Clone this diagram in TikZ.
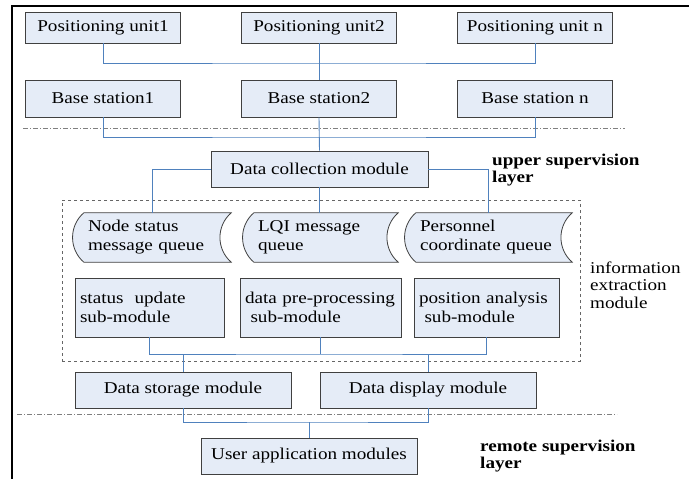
\documentclass[tikz,border=0pt]{standalone}
\usepackage{fontspec}
\setmainfont[FakeStretch=1.16]{Liberation Serif}
\usepackage{tikz}
\usetikzlibrary{backgrounds}

\definecolor{boxfill}{RGB}{229,236,247}
\definecolor{linkblue}{RGB}{79,129,189}
\newcommand{\queuepath}[1]{%
  \draw[qshape] ([xshift=11pt]#1.north west) -- (#1.north east)
    .. controls ([xshift=-15pt,yshift=-13pt]#1.north east) and ([xshift=-15pt,yshift=13pt]#1.south east) .. (#1.south east)
    -- ([xshift=11pt]#1.south west)
    .. controls ([xshift=-4pt,yshift=13pt]#1.south west) and ([xshift=-4pt,yshift=-13pt]#1.north west) .. ([xshift=11pt]#1.north west) -- cycle;}

\begin{document}
\begin{tikzpicture}[x=1pt,y=-1pt,font=\fontsize{16.5}{19}\selectfont]
    \tikzstyle{box}=[draw=black!75,fill=boxfill,line width=0.8pt,inner sep=0pt,align=center]
    \tikzstyle{subbox}=[box,align=left,inner xsep=5pt]
    \tikzstyle{queue}=[inner sep=0pt,inner xsep=15pt,align=left,minimum height=49pt]
    \tikzstyle{qshape}=[draw=black!75,fill=boxfill,line width=0.8pt]
    \tikzstyle{link}=[draw=linkblue,line width=0.9pt]
    \tikzstyle{sepline}=[draw=black!50,line width=0.8pt,dash pattern=on 5pt off 2pt on 1pt off 2pt]
    \tikzstyle{layer}=[anchor=west,align=left,inner sep=0pt,font=\fontsize{16.5}{17}\selectfont\bfseries]
    \tikzstyle{note}=[anchor=west,align=left,inner sep=0pt,font=\fontsize{16.5}{17.5}\selectfont]
    \useasboundingbox (0,0) rectangle (689,479);
    \draw[line width=2.5pt] (12,479) -- (12,6) -- (689,6);

    \node[box,minimum width=155pt,minimum height=31pt] (pu1) at (103,27.5) {Positioning unit1};
    \node[box,minimum width=155pt,minimum height=31pt] (pu2) at (319,27.5) {Positioning unit2};
    \node[box,minimum width=155pt,minimum height=31pt] (pun) at (535,27.5) {Positioning unit n};
    \node[box,minimum width=155pt,minimum height=37pt] (bs1) at (103,98.5) {Base station1};
    \node[box,minimum width=155pt,minimum height=37pt] (bs2) at (319,98.5) {Base station2};
    \node[box,minimum width=155pt,minimum height=37pt] (bsn) at (535,98.5) {Base station n};
    \node[box,minimum width=217pt,minimum height=36pt] (dcm) at (319.5,169) {Data collection module};

    \node[queue,text width=128pt] (q1) at (152,237.5) {Node status\\message queue};
    \node[queue,text width=125pt] (q2) at (320.5,237.5) {LQI message\\queue};
    \node[queue,text width=137pt] (q3) at (488.5,237.5) {Personnel\\coordinate queue};
    \begin{pgfonlayer}{background}
        \queuepath{q1}
        \queuepath{q2}
        \queuepath{q3}
    \end{pgfonlayer}

    \node[subbox,text width=139pt,minimum height=59pt] (su) at (149.5,307.5) {status\ \ update\\sub-module};
    \node[subbox,text width=151pt,minimum height=59pt] (dp) at (320.5,307.5) {data pre-processing\\\ sub-module};
    \node[subbox,text width=135pt,minimum height=59pt] (pa) at (486.5,307.5) {position analysis\\\ sub-module};
    \node[draw=black!60,dashed,line width=0.8pt,minimum width=518pt,minimum height=161pt] (ext) at (321,280.5) {};

    \node[box,minimum width=216pt,minimum height=36pt] (ds) at (183,390) {Data storage module};
    \node[box,minimum width=216pt,minimum height=36pt] (dd) at (428,390) {Data display module};
    \node[box,minimum width=216pt,minimum height=36pt] (ua) at (309,456) {User application modules};

    \node[layer] (upper) at (492,170) {upper supervision\\layer};
    \node[note] (info) at (590,285) {information\\extraction\\module};
    \node[layer] (remote) at (480,456.5) {remote supervision\\layer};

    \draw[sepline] (23,128) -- (625,128);
    \draw[sepline] (17,414) -- (617,414);

    \coordinate (bus1) at (319,63);
    \coordinate (bus2) at (319,137);
    \coordinate (bus3) at (320.5,354);
    \coordinate (bus4) at (309,422);
    \draw[link] (pu1.south) |- (bus1) -| (pun.south);
    \draw[link] (pu2.south) -- (bs2.north);
    \draw[link] (bs1.south) |- (bus2) -| (bsn.south);
    \draw[link] (bs2.south) -- (dcm.north);
    \draw[link] (dcm.west) -| (q1.north);
    \draw[link] (dcm.east) -| (q3.north);
    \draw[link] (dcm.south) -- (dcm.south |- q2.north);
    \draw[link] (su.south) |- (bus3) -| (pa.south);
    \draw[link] (dp.south) -- (bus3);
    \draw[link] (ds.north) -- (ds.north |- bus3);
    \draw[link] (dd.north) -- (dd.north |- bus3);
    \draw[link] (ds.south) |- (bus4) -| (dd.south);
    \draw[link] (bus4) -- (ua.north);
\end{tikzpicture}
\end{document}
